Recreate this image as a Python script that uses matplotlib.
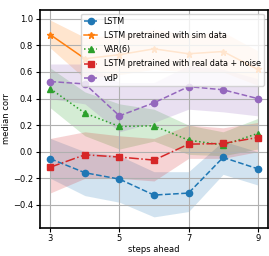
import matplotlib
matplotlib.use("Agg")
import matplotlib.pyplot as plt
import numpy as np

steps = [3, 4, 5, 6, 7, 8, 9]

lstm = [-0.053, -0.158, -0.206, -0.326, -0.311, -0.043, -0.128]
lstm_lo = [-0.20, -0.33, -0.38, -0.49, -0.45, -0.17, -0.25]
lstm_hi = [0.10, 0.00, -0.03, -0.15, -0.15, 0.08, 0.00]

lstm_sim = [0.88, 0.70, 0.73, 0.774, 0.737, 0.754, 0.62]
lstm_sim_lo = [0.78, 0.55, 0.58, 0.62, 0.60, 0.60, 0.50]
lstm_sim_hi = [0.99, 0.86, 0.88, 0.92, 0.88, 0.90, 0.76]

var6 = [0.474, 0.29, 0.19, 0.195, 0.087, 0.05, 0.137]
var6_lo = [0.33, 0.12, 0.02, 0.08, -0.02, -0.03, 0.02]
var6_hi = [0.63, 0.45, 0.36, 0.32, 0.20, 0.15, 0.25]

lstm_real = [-0.116, -0.023, -0.04, -0.063, 0.057, 0.062, 0.107]
lstm_real_lo = [-0.31, -0.20, -0.20, -0.22, -0.05, -0.05, 0.00]
lstm_real_hi = [0.10, 0.15, 0.12, 0.10, 0.20, 0.18, 0.22]

vdp = [0.528, 0.51, 0.27, 0.368, 0.49, 0.466, 0.40]
vdp_lo = [0.40, 0.36, 0.15, 0.22, 0.32, 0.30, 0.27]
vdp_hi = [0.66, 0.66, 0.52, 0.52, 0.65, 0.62, 0.55]

series = [
    ("LSTM", lstm, lstm_lo, lstm_hi, "C0", "o", "--"),
    ("LSTM pretrained with sim data", lstm_sim, lstm_sim_lo, lstm_sim_hi, "C1", "*", "-"),
    ("VAR(6)", var6, var6_lo, var6_hi, "C2", "^", ":"),
    ("LSTM pretrained with real data + noise", lstm_real, lstm_real_lo, lstm_real_hi, "C3", "s", "-."),
    ("vdP", vdp, vdp_lo, vdp_hi, "C4", "o", "--"),
]

fig = plt.figure(figsize=(2.69, 2.56), dpi=100)
ax = fig.add_axes([40 / 269, 1 - 227.5 / 256, 228 / 269, 218 / 256])

for name, y, lo, hi, col, mk, ls in series:
    ax.plot(steps, y, color=col, marker=mk, linestyle=ls, linewidth=1.1,
            markersize=4.5, label=name)
    ax.fill_between(steps, lo, hi, color=col, alpha=0.2, linewidth=0)

ax.set_xticks([3, 5, 7, 9])
ax.set_yticks([-0.4, -0.2, 0.0, 0.2, 0.4, 0.6, 0.8, 1.0])
ax.set_xlim(2.7, 9.3)
ax.set_ylim(-0.57, 1.07)
ax.grid(True)
for s in ax.spines.values():
    s.set_linewidth(1.2)
ax.tick_params(labelsize=6, length=3, pad=2)
ax.set_xlabel("steps ahead", fontsize=6, labelpad=1)
ax.set_ylabel("median corr", fontsize=6, labelpad=1.5)
ax.legend(loc="upper right", fontsize=5.8, handlelength=1.6, borderpad=0.4,
          labelspacing=0.65)

fig.savefig("out.png", dpi=100)
